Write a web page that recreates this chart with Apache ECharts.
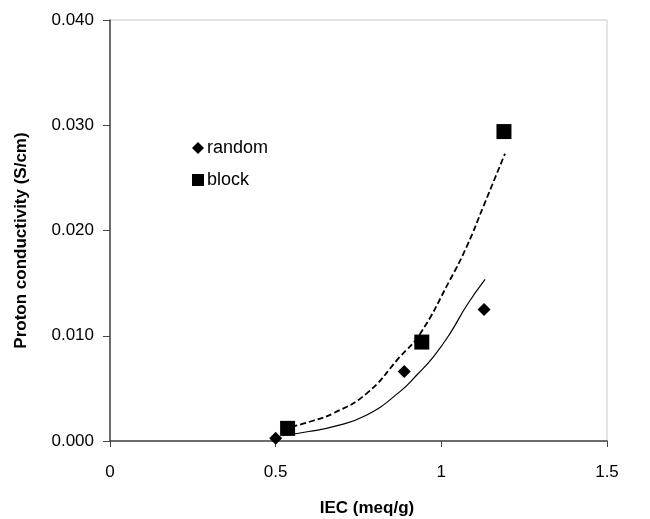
<!DOCTYPE html>
<html>
<head>
<meta charset="utf-8">
<script src="https://cdn.jsdelivr.net/npm/echarts@6/dist/echarts.min.js"></script>
<style>
html,body{margin:0;padding:0;background:#fff;}
#chart{width:650px;height:519px;}
</style>
</head>
<body>
<div id="chart"></div>
<script>
// measured points
var randomX = [0.50, 0.888, 1.129];
var randomY = [0.00025, 0.0066, 0.0125];
var blockX = [0.536, 0.941, 1.189];
var blockY = [0.0012, 0.0094, 0.0294];

// trend lines
var randomFitX = [0.521, 0.60, 0.674, 0.775, 0.875, 0.926, 0.976, 1.026, 1.077, 1.132];
var randomFitY = [0.0005, 0.0009, 0.00136, 0.00247, 0.00469, 0.00627, 0.0080, 0.0102, 0.0129, 0.01536];
var blockFitX = [0.548, 0.61, 0.674, 0.775, 0.875, 0.936, 1.026, 1.077, 1.127, 1.192];
var blockFitY = [0.00136, 0.0019, 0.00263, 0.00453, 0.0080, 0.0102, 0.0153, 0.0185, 0.0223, 0.0273];

var xTicks = [0, 0.5, 1, 1.5];
var yTicks = [0, 0.01, 0.02, 0.03, 0.04];

function pairs(xs, ys){
	var out = [];
	for(var i = 0;i<xs.length;i++){
		out.push([xs[i], ys[i]]);
	}
	return out;
}

var font = 'Liberation Sans, Arial, sans-serif';
var myChart = echarts.init(document.getElementById('chart'));
var option = {
	backgroundColor : '#fff',
	animation : false,
	textStyle : { fontFamily : font },
	grid : {
		left : 110,
		right : 43,
		top : 20,
		bottom : 78,
		containLabel : false,
		outerBoundsMode : 'none',
		show : true,
		borderColor : '#c8c8c8',
		borderWidth : 1
	},
	legend : {
		orient : 'vertical',
		left : 187,
		top : 134,
		itemGap : 14,
		itemWidth : 12,
		itemHeight : 12,
		textStyle : { fontSize : 18, color : '#000', fontFamily : font, padding : [0,0,0,-2] },
		data : [
			{ name : 'random', icon : 'diamond', itemStyle : { color : '#000', opacity : 1 } },
			{ name : 'block', icon : 'rect', itemStyle : { color : '#000', opacity : 1 } }
		]
	},
	xAxis : {
		type : 'value',
		min : 0,
		max : 1.5,
		interval : 0.5,
		name : 'IEC (meq/g)',
		nameLocation : 'middle',
		nameGap : 59,
		nameTextStyle : { fontWeight : 'bold', fontSize : 17, color : '#000', padding : [0,0,0,17] },
		axisLine : { show : true, lineStyle : { color : '#444', width : 1.5 } },
		axisTick : { show : true, inside : false, length : 6, lineStyle : { color : '#444' } },
		axisLabel : {
			fontSize : 17,
			color : '#000',
			margin : 23,
			formatter : function(v){ return xTicks.indexOf(v) >= 0 ? String(v) : ''; }
		},
		splitLine : { show : false }
	},
	yAxis : {
		type : 'value',
		min : 0,
		max : 0.04,
		interval : 0.01,
		name : 'Proton conductivity (S/cm)',
		nameLocation : 'middle',
		nameGap : 80,
		nameTextStyle : { fontWeight : 'bold', fontSize : 17, color : '#000', padding : [0,20,0,0] },
		axisLine : { show : true, lineStyle : { color : '#444', width : 1.5 } },
		axisTick : { show : true, length : 7, lineStyle : { color : '#444' } },
		axisLabel : {
			fontSize : 17,
			color : '#000',
			margin : 16,
			formatter : function(v){ return v.toFixed(3); }
		},
		splitLine : { show : false }
	},
	series : [{
		name : 'random fit',
		type : 'line',
		smooth : true,
		symbol : 'none',
		lineStyle : { color : '#000', width : 1.2, type : 'solid' },
		data : pairs(randomFitX, randomFitY),
		z : 1
	},{
		name : 'block fit',
		type : 'line',
		smooth : true,
		symbol : 'none',
		lineStyle : { color : '#000', width : 1.8, type : [6, 3] },
		data : pairs(blockFitX, blockFitY),
		z : 1
	},{
		name : 'random',
		type : 'scatter',
		symbol : 'diamond',
		symbolSize : 13,
		itemStyle : { color : '#000', opacity : 1 },
		data : pairs(randomX, randomY),
		z : 3
	},{
		name : 'block',
		type : 'scatter',
		symbol : 'rect',
		symbolSize : 15,
		itemStyle : { color : '#000', opacity : 1 },
		data : pairs(blockX, blockY),
		z : 3
	}]
};
myChart.setOption(option, true);
</script>
</body>
</html>
